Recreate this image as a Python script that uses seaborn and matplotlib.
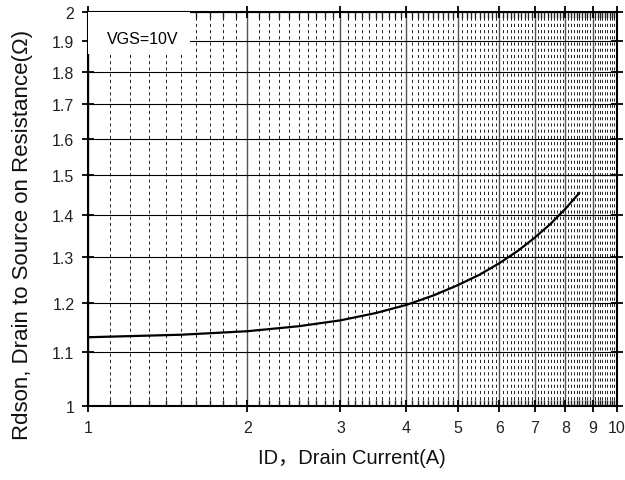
import numpy as np
import pandas as pd
import matplotlib
matplotlib.use("Agg")
import matplotlib.pyplot as plt
import matplotlib.ticker as mticker
from matplotlib.patches import Rectangle
import seaborn as sns

# ---- data ----
drain_current = [1.0, 1.5, 2.0, 2.5, 3.0, 3.5, 4.0, 4.5, 5.0, 5.5, 6.0, 6.5, 7.0, 7.5, 8.0, 8.5]
rdson = [1.129, 1.134, 1.141, 1.151, 1.163, 1.178, 1.195, 1.215, 1.237, 1.260, 1.286, 1.314, 1.345, 1.378, 1.415, 1.455]
x_ticks = [1, 2, 3, 4, 5, 6, 7, 8, 9, 10]
x_tick_labels = ["1", "2", "3", "4", "5", "6", "7", "8", "9", "10"]
y_ticks = [1.0, 1.1, 1.2, 1.3, 1.4, 1.5, 1.6, 1.7, 1.8, 1.9, 2.0]
y_tick_labels = ["1", "1.1", "1.2", "1.3", "1.4", "1.5", "1.6", "1.7", "1.8", "1.9", "2"]
annotation = "VGS=10V"
x_label = "ID，Drain Current(A)"
y_label = "Rdson, Drain to Source on Resistance(Ω)"

sns.set_style("ticks")
plt.rcParams['font.family'] = ['Liberation Sans', 'Noto Sans CJK SC', 'DejaVu Sans']

df = pd.DataFrame({"ID": drain_current, "R": rdson})

fig = plt.figure(figsize=(6.25, 4.81), dpi=100)
ax = fig.add_axes([0.1413, 0.1532, 0.9867 - 0.1413, 0.9736 - 0.1532])

sns.lineplot(data=df, x="ID", y="R", ax=ax, color="black", linewidth=1.6, zorder=5)

ax.set_xscale("log")
ax.set_yscale("log")
ax.set_xlim(1, 10)
ax.set_ylim(1, 2)

ax.xaxis.set_major_locator(mticker.FixedLocator(x_ticks))
ax.xaxis.set_major_formatter(mticker.FixedFormatter(x_tick_labels))
minor_x = [round(v, 1) for v in np.arange(1.1, 10.0, 0.1) if abs(v - round(v)) > 1e-6]
ax.xaxis.set_minor_locator(mticker.FixedLocator(minor_x))
ax.xaxis.set_minor_formatter(mticker.NullFormatter())

ax.yaxis.set_major_locator(mticker.FixedLocator(y_ticks))
ax.yaxis.set_major_formatter(mticker.FixedFormatter(y_tick_labels))
ax.yaxis.set_minor_locator(mticker.NullLocator())

ax.grid(which="major", axis="x", color="#555555", linewidth=1.0, linestyle="-")
ax.grid(which="minor", axis="x", color="#222222", linewidth=0.7, linestyle=(0, (3.2, 3.2)))
ax.grid(which="major", axis="y", color="black", linewidth=0.8, linestyle="-")
ax.set_axisbelow(True)

for s in ax.spines.values():
    s.set_linewidth(1.5)
    s.set_color("black")

ax.tick_params(which="major", direction="inout", length=8, width=1.3,
               labelsize=11.5, colors="black", labelcolor="#222222", pad=6)
ax.tick_params(which="minor", direction="in", length=4, width=1.0)
ax.tick_params(axis="y", right=True, which="major")
ax.tick_params(axis="x", top=True, which="both")

ax.set_xlabel(x_label, fontsize=14.5, color="#111111")
ax.set_ylabel(y_label, fontsize=16, color="#111111")
ax.xaxis.set_label_coords(0.498, -0.13)
ax.yaxis.set_label_coords(-0.1255, 0.437)
ax.xaxis.label.set_va("center")
ax.yaxis.label.set_va("center")

box = Rectangle((0, 0.893), 0.1925, 0.107, transform=ax.transAxes,
                facecolor="white", edgecolor="none", zorder=3)
ax.add_patch(box)
ax.text(0.035, 0.933, annotation, transform=ax.transAxes, fontsize=11.5,
        va="center", ha="left", color="black", zorder=4)

fig.savefig("out.png", dpi=100)
